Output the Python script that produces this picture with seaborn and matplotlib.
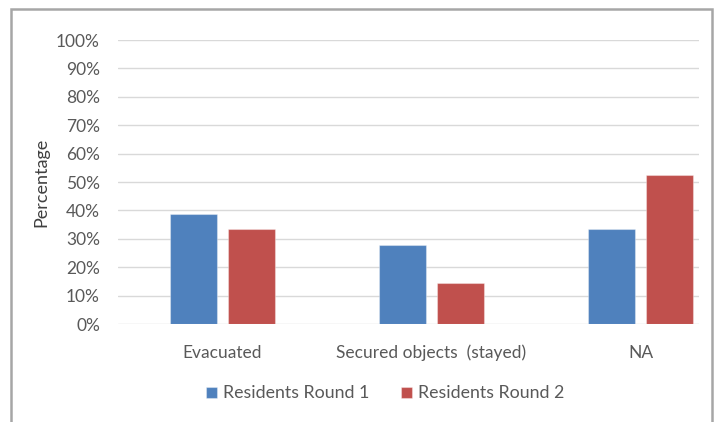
import matplotlib
matplotlib.use("Agg")
import matplotlib.pyplot as plt
from matplotlib.patches import Rectangle
import seaborn as sns
import pandas as pd

categories = ["Evacuated", "Secured objects  (stayed)", "NA"]
series_names = ["Residents Round 1", "Residents Round 2"]
round1 = [38.9, 27.8, 33.3]
round2 = [33.3, 14.3, 52.4]
colors = ["#4F81BD", "#C0504D"]
y_ticks = list(range(0, 101, 10))

df = pd.DataFrame({
    "category": categories * 2,
    "series": [series_names[0]] * 3 + [series_names[1]] * 3,
    "value": round1 + round2,
})

sns.set_style("white")
plt.rcParams["font.family"] = ["Lato", "DejaVu Sans"]
text_color = "#595959"

fig = plt.figure(figsize=(7.17, 4.22), dpi=100)
ax = fig.add_axes([0.1646, 0.2322, 0.975 - 0.1646, 0.9052 - 0.2322])

sns.barplot(data=df, x="category", y="value", hue="series", order=categories,
            hue_order=series_names, palette=colors, width=0.555, gap=0.2,
            saturation=1, ax=ax, legend=True)

for p in ax.patches:
    p.set_edgecolor((1, 1, 1, 0.35))
    p.set_linewidth(0.8)

ax.set_ylim(0, 100)
ax.set_xlim(-0.5, 2.28)
ax.set_yticks(y_ticks)
ax.set_yticklabels([f"{t}%" for t in y_ticks])
ax.yaxis.grid(True, color="#d9d9d9", linewidth=1)
ax.set_axisbelow(True)
for s in ax.spines.values():
    s.set_visible(False)
ax.tick_params(axis="both", length=0, labelsize=12.5, colors=text_color)
ax.tick_params(axis="x", pad=15)
ax.tick_params(axis="y", pad=13)
ax.set_xlabel("")
ax.set_ylabel("Percentage", fontsize=13, color="#404040", labelpad=5)

leg = ax.legend(loc="upper center", bbox_to_anchor=(0.46, -0.16), ncol=2,
                frameon=False, fontsize=12.8, handlelength=0.6, handleheight=0.6,
                columnspacing=1.8, handletextpad=0.35)
for t in leg.get_texts():
    t.set_color(text_color)

# outer chart frame
fig.add_artist(Rectangle((11 / 717, -0.05), (712 - 11) / 717, 1.05 - 9 / 422,
                         transform=fig.transFigure, fill=False,
                         edgecolor="#a6a6a6", linewidth=1.8))

fig.savefig("out.png", dpi=100)
